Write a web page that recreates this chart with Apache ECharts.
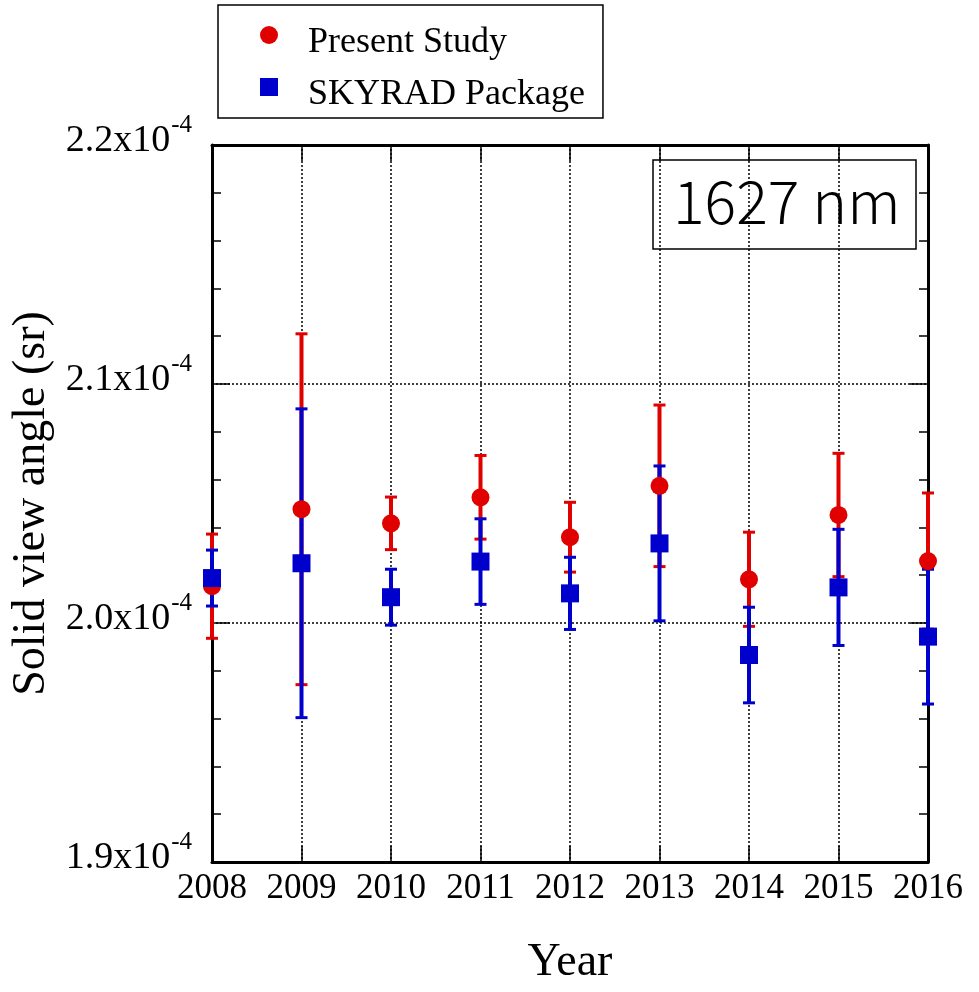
<!DOCTYPE html>
<html>
<head>
<meta charset="utf-8">
<script src="https://cdn.jsdelivr.net/npm/echarts@6/dist/echarts.min.js"></script>
<style>
  html, body { margin: 0; padding: 0; background: #fff; }
  #chart { width: 979px; height: 992px; }
</style>
</head>
<body>
<div id="chart"></div>
<script>
// Yearly solid view angle (sr) with ±1σ error bars, 1627 nm channel
const years = [2008, 2009, 2010, 2011, 2012, 2013, 2014, 2015, 2016];
const presentStudy    = [2.0154e-4, 2.0476e-4, 2.0417e-4, 2.0526e-4, 2.0359e-4, 2.0574e-4, 2.0183e-4, 2.0452e-4, 2.0259e-4];
const presentStudyErr = [0.0218e-4, 0.0734e-4, 0.0110e-4, 0.0175e-4, 0.0146e-4, 0.0338e-4, 0.0197e-4, 0.0258e-4, 0.0285e-4];
const skyrad          = [2.0188e-4, 2.0250e-4, 2.0108e-4, 2.0257e-4, 2.0124e-4, 2.0333e-4, 1.9866e-4, 2.0149e-4, 1.9943e-4];
const skyradErr       = [0.0117e-4, 0.0646e-4, 0.0117e-4, 0.0179e-4, 0.0151e-4, 0.0324e-4, 0.0200e-4, 0.0243e-4, 0.0282e-4];
const yTicks = [1.9e-4, 2.0e-4, 2.1e-4, 2.2e-4];

const RED = '#e00000';
const BLUE = '#0000cc';
const SERIF = "'Liberation Serif', 'Times New Roman', serif";

const chart = echarts.init(document.getElementById('chart'), null, { renderer: 'canvas' });

function errorBarSeries(name, values, errs, color, z) {
  return {
    type: 'custom',
    name: name,
    z: z,
    clip: false,
    silent: true,
    data: years.map((y, i) => [y, values[i], errs[i]]),
    renderItem: function (params, api) {
      const x = api.value(0), v = api.value(1), e = api.value(2);
      const lo = api.coord([x, v - e]);
      const hi = api.coord([x, v + e]);
      const cap = 6;
      const style = { stroke: color, lineWidth: 4 };
      const capStyle = { stroke: color, lineWidth: 3 };
      return {
        type: 'group',
        children: [
          { type: 'line', shape: { x1: lo[0], y1: lo[1], x2: hi[0], y2: hi[1] }, style: style },
          { type: 'line', shape: { x1: lo[0] - cap, y1: lo[1], x2: lo[0] + cap, y2: lo[1] }, style: capStyle },
          { type: 'line', shape: { x1: hi[0] - cap, y1: hi[1], x2: hi[0] + cap, y2: hi[1] }, style: capStyle }
        ]
      };
    }
  };
}

const yRange = { min: yTicks[0], max: yTicks[yTicks.length - 1], interval: 1e-5 };
const dotted = { color: '#000', width: 1.5, type: [2, 2] };

const option = {
  backgroundColor: '#fff',
  animation: false,
  grid: { left: 212, right: 51, top: 145, bottom: 130, containLabel: false, outerBoundsMode: 'none' },
  title: {
    text: '1627 nm',
    left: 653,
    top: 162,
    borderColor: '#000',
    borderWidth: 1.5,
    padding: [12, 16, 18, 20],
    textStyle: {
      fontFamily: "'Noto Sans CJK JP', 'Noto Sans', sans-serif",
      fontSize: 59,
      fontWeight: 300,
      color: '#000',
      lineHeight: 55
    }
  },
  legend: {
    orient: 'vertical',
    left: 218,
    top: 5,
    padding: [4, 18, 5, 42],
    itemGap: 0,
    itemWidth: 18,
    itemHeight: 18,
    borderColor: '#000',
    borderWidth: 1.5,
    data: [
      { name: 'Present Study', icon: 'circle' },
      { name: 'SKYRAD Package', icon: 'rect' }
    ],
    formatter: name => '{t|' + name + '}',
    textStyle: {
      rich: {
        t: {
          fontFamily: SERIF,
          fontSize: 36,
          color: '#000',
          lineHeight: 36,
          padding: [16, 0, 0, 25]
        }
      }
    }
  },
  xAxis: [
    {
      type: 'value',
      position: 'bottom',
      min: 2008, max: 2016, interval: 1,
      name: 'Year',
      nameLocation: 'middle',
      nameGap: 78,
      nameTextStyle: { fontFamily: SERIF, fontSize: 46, color: '#000' },
      axisLine: { show: true, onZero: false, lineStyle: { color: '#000', width: 3 } },
      axisTick: { show: true, inside: true, length: 16, lineStyle: { color: '#000', width: 1.5 } },
      axisLabel: {
        show: true, margin: 9, color: '#000', fontFamily: SERIF, fontSize: 35,
        formatter: v => String(v)
      },
      splitLine: { show: true, lineStyle: dotted }
    },
    {
      type: 'value',
      position: 'top',
      min: 2008, max: 2016, interval: 1,
      axisLine: { show: true, onZero: false, lineStyle: { color: '#000', width: 3 } },
      axisTick: { show: true, inside: true, length: 16, lineStyle: { color: '#000', width: 1.5 } },
      axisLabel: { show: false },
      splitLine: { show: false }
    }
  ],
  yAxis: [
    Object.assign({
      type: 'value',
      position: 'left',
      name: 'Solid view angle (sr)',
      nameLocation: 'middle',
      nameGap: 148,
      nameTextStyle: { fontFamily: SERIF, fontSize: 46, color: '#000' },
      axisLine: { show: true, onZero: false, lineStyle: { color: '#000', width: 3 } },
      axisTick: { show: true, inside: true, length: 18, lineStyle: { color: '#000', width: 1.5 } },
      minorTick: { show: true, splitNumber: 5, length: 9, lineStyle: { color: '#000', width: 1.5 } },
      axisLabel: {
        show: true,
        margin: 20,
        padding: [0, 0, 10, 0],
        formatter: v => '{m|' + (v * 1e4).toFixed(1) + 'x10}{s|-4}',
        rich: {
          m: { fontFamily: SERIF, fontSize: 38, color: '#000', lineHeight: 40, verticalAlign: 'bottom' },
          s: { fontFamily: SERIF, fontSize: 25, color: '#000', lineHeight: 40, verticalAlign: 'bottom', padding: [0, 0, 22, 1] }
        }
      },
      splitLine: { show: true, lineStyle: dotted }
    }, yRange),
    Object.assign({
      type: 'value',
      position: 'right',
      axisLine: { show: true, onZero: false, lineStyle: { color: '#000', width: 3 } },
      axisTick: { show: true, inside: true, length: 18, lineStyle: { color: '#000', width: 1.5 } },
      minorTick: { show: true, splitNumber: 5, length: 9, lineStyle: { color: '#000', width: 1.5 } },
      axisLabel: { show: false },
      splitLine: { show: false }
    }, yRange)
  ],
  series: [
    errorBarSeries('Present Study error', presentStudy, presentStudyErr, RED, 3),
    errorBarSeries('SKYRAD Package error', skyrad, skyradErr, BLUE, 4),
    {
      type: 'scatter',
      name: 'Present Study',
      z: 5,
      clip: false,
      symbol: 'circle',
      symbolSize: 18,
      itemStyle: { color: RED, opacity: 1 },
      data: years.map((y, i) => [y, presentStudy[i]])
    },
    {
      type: 'scatter',
      name: 'SKYRAD Package',
      z: 6,
      clip: false,
      symbol: 'rect',
      symbolSize: 18,
      itemStyle: { color: BLUE, opacity: 1 },
      data: years.map((y, i) => [y, skyrad[i]])
    }
  ]
};

chart.setOption(option);
</script>
</body>
</html>
